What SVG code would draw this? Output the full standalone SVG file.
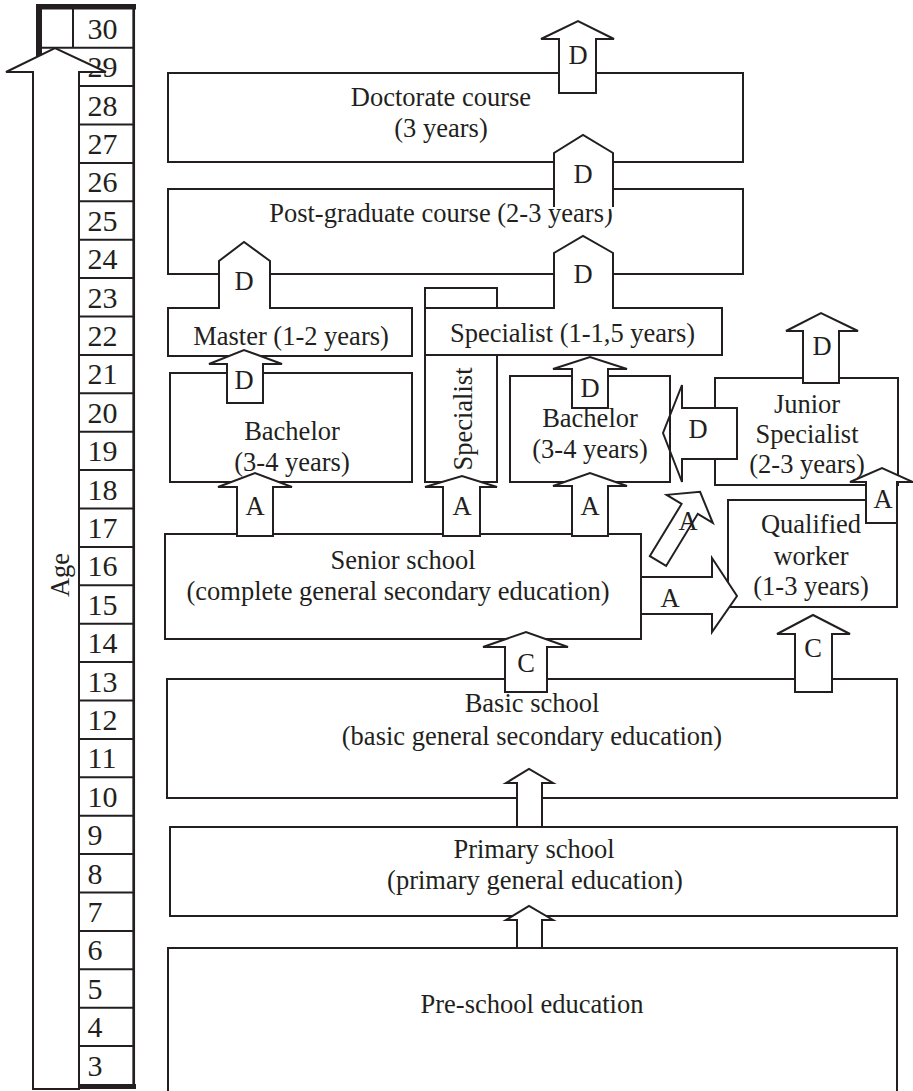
<svg xmlns="http://www.w3.org/2000/svg" width="913" height="1091" viewBox="0 0 913 1091">
<style>
.box{fill:#fff;stroke:#231f20;stroke-width:2}
.ln{fill:none;stroke:#231f20;stroke-width:2}
.arr{fill:#fff;stroke:#231f20;stroke-width:2;stroke-linejoin:miter}
.fillw{fill:#fff;stroke:none}
.t{font-family:"Liberation Serif","Times New Roman",serif;font-size:26.5px;fill:#231f20;text-anchor:middle}
.n{font-family:"Liberation Serif","Times New Roman",serif;font-size:30px;fill:#231f20}
.blk{fill:#231f20}
</style>
<rect width="913" height="1091" fill="#fff"/>

<g id="age-scale">
  <rect class="blk" x="36" y="4" width="100" height="5.5"/>
  <rect class="blk" x="36" y="4" width="6" height="56"/>
  <line x1="133.7" y1="4" x2="133.7" y2="1089" stroke="#231f20" stroke-width="2.7"/>
  <rect class="blk" x="79" y="1084" width="57" height="5"/>
  <line class="ln" x1="73" y1="9" x2="73" y2="47.7"/>
  <line class="ln" x1="36" y1="47.7" x2="134" y2="47.7"/>
  <g class="ln">
    <line x1="79" y1="86.1" x2="134" y2="86.1"/>
    <line x1="79" y1="124.5" x2="134" y2="124.5"/>
    <line x1="79" y1="162.9" x2="134" y2="162.9"/>
    <line x1="79" y1="201.3" x2="134" y2="201.3"/>
    <line x1="79" y1="239.7" x2="134" y2="239.7"/>
    <line x1="79" y1="278.1" x2="134" y2="278.1"/>
    <line x1="79" y1="316.5" x2="134" y2="316.5"/>
    <line x1="79" y1="354.9" x2="134" y2="354.9"/>
    <line x1="79" y1="393.3" x2="134" y2="393.3"/>
    <line x1="79" y1="431.7" x2="134" y2="431.7"/>
    <line x1="79" y1="470.1" x2="134" y2="470.1"/>
    <line x1="79" y1="508.5" x2="134" y2="508.5"/>
    <line x1="79" y1="546.9" x2="134" y2="546.9"/>
    <line x1="79" y1="585.3" x2="134" y2="585.3"/>
    <line x1="79" y1="623.7" x2="134" y2="623.7"/>
    <line x1="79" y1="662.1" x2="134" y2="662.1"/>
    <line x1="79" y1="700.5" x2="134" y2="700.5"/>
    <line x1="79" y1="738.9" x2="134" y2="738.9"/>
    <line x1="79" y1="777.3" x2="134" y2="777.3"/>
    <line x1="79" y1="815.7" x2="134" y2="815.7"/>
    <line x1="79" y1="854.1" x2="134" y2="854.1"/>
    <line x1="79" y1="892.5" x2="134" y2="892.5"/>
    <line x1="79" y1="930.9" x2="134" y2="930.9"/>
    <line x1="79" y1="969.3" x2="134" y2="969.3"/>
    <line x1="79" y1="1007.7" x2="134" y2="1007.7"/>
    <line x1="79" y1="1046.1" x2="134" y2="1046.1"/>
  </g>
  <g class="n">
    <text x="87.5" y="38.8">30</text>
    <text x="87.5" y="77.2">29</text>
    <text x="87.5" y="115.6">28</text>
    <text x="87.5" y="154">27</text>
    <text x="87.5" y="192.4">26</text>
    <text x="87.5" y="230.8">25</text>
    <text x="87.5" y="269.2">24</text>
    <text x="87.5" y="307.6">23</text>
    <text x="87.5" y="346">22</text>
    <text x="87.5" y="384.4">21</text>
    <text x="87.5" y="422.8">20</text>
    <text x="87.5" y="461.2">19</text>
    <text x="87.5" y="499.6">18</text>
    <text x="87.5" y="538">17</text>
    <text x="87.5" y="576.4">16</text>
    <text x="87.5" y="614.8">15</text>
    <text x="87.5" y="653.2">14</text>
    <text x="87.5" y="691.6">13</text>
    <text x="87.5" y="730">12</text>
    <text x="87.5" y="768.4">11</text>
    <text x="87.5" y="806.8">10</text>
    <text x="87.5" y="845.2">9</text>
    <text x="87.5" y="883.6">8</text>
    <text x="87.5" y="922">7</text>
    <text x="87.5" y="960.4">6</text>
    <text x="87.5" y="998.8">5</text>
    <text x="87.5" y="1037.2">4</text>
    <text x="87.5" y="1075.6">3</text>
  </g>
  <path class="arr" d="M33,1089 L33,72 L6,72 L55,48 L106,72 L79,72 L79,1089 Z"/>
  <text class="t" transform="translate(69,575) rotate(-90)">Age</text>
</g>

<g id="doctorate">
  <rect class="box" x="168" y="73" width="575" height="89"/>
  <text class="t" x="441" y="106">Doctorate course</text>
  <text class="t" x="441" y="137">(3 years)</text>
</g>
<g id="postgraduate">
  <rect class="box" x="168" y="189" width="575" height="85"/>
  <text class="t" x="441" y="222">Post-graduate course (2-3 years)</text>
</g>
<g id="master">
  <rect class="box" x="168" y="308" width="244" height="48"/>
  <text class="t" x="291" y="345">Master (1-2 years)</text>
</g>
<g id="bachelor1">
  <rect class="box" x="170" y="373" width="242" height="109"/>
  <text class="t" x="292" y="440">Bachelor</text>
  <text class="t" x="292" y="471">(3-4 years)</text>
</g>
<g id="specialist-vertical">
  <rect class="box" x="425" y="288" width="72" height="194"/>
  <text class="t" transform="translate(472,419) rotate(-90)">Specialist</text>
</g>
<g id="specialist">
  <rect class="box" x="425" y="308" width="297" height="47"/>
  <text class="t" x="572.5" y="342">Specialist (1-1,5 years)</text>
</g>
<g id="bachelor2">
  <rect class="box" x="510" y="376" width="160" height="106"/>
  <text class="t" x="590" y="427">Bachelor</text>
  <text class="t" x="590" y="458">(3-4 years)</text>
</g>
<g id="junior-specialist">
  <rect class="box" x="715" y="378" width="183" height="107"/>
  <text class="t" x="807" y="413">Junior</text>
  <text class="t" x="807" y="443">Specialist</text>
  <text class="t" x="807" y="473">(2-3 years)</text>
</g>
<g id="qualified-worker">
  <rect class="box" x="728" y="500" width="169" height="107"/>
  <text class="t" x="811" y="533">Qualified</text>
  <text class="t" x="811" y="565">worker</text>
  <text class="t" x="811" y="595">(1-3 years)</text>
</g>
<g id="senior-school">
  <rect class="box" x="165" y="534" width="476" height="105"/>
  <text class="t" x="403" y="569">Senior school</text>
  <text class="t" x="398" y="600">(complete general secondary education)</text>
</g>
<g id="basic-school">
  <rect class="box" x="167" y="679" width="730" height="119"/>
  <text class="t" x="532" y="712">Basic school</text>
  <text class="t" x="532" y="745">(basic general secondary education)</text>
</g>
<g id="primary-school">
  <rect class="box" x="170" y="827" width="727" height="89"/>
  <text class="t" x="534" y="858">Primary school</text>
  <text class="t" x="535" y="889">(primary general education)</text>
</g>
<g id="pre-school">
  <rect class="box" x="168" y="948" width="729" height="150"/>
  <text class="t" x="532" y="1013">Pre-school education</text>
</g>

<g id="connectors">
  <path class="arr" d="M559,93 L559,39 L541,39 L578,21 L614,39 L596,39 L596,93 Z"/>
  <text class="t" x="578" y="64">D</text>

  <path class="fillw" d="M554,209 L554,153 L583,135 L613,153 L613,209 Z"/>
  <path class="ln" d="M554,207 L554,153 L583,135 L613,153 L613,207"/>
  <text class="t" x="583" y="183">D</text>

  <path class="fillw" d="M554,310 L554,253 L583,236 L613,253 L613,310 Z"/>
  <path class="ln" d="M554,309 L554,253 L583,236 L613,253 L613,309"/>
  <text class="t" x="583" y="283">D</text>

  <path class="fillw" d="M219,310 L219,261 L244,242 L270,261 L270,310 Z"/>
  <path class="ln" d="M219,309 L219,261 L244,242 L270,261 L270,309"/>
  <text class="t" x="244" y="290">D</text>

  <path class="arr" d="M227,403 L227,364 L209,364 L244,350 L282,364 L263,364 L263,403 Z"/>
  <text class="t" x="244" y="389">D</text>

  <path class="arr" d="M572,408 L572,369 L553,369 L590,357 L627,369 L608,369 L608,408 Z"/>
  <text class="t" x="590" y="397">D</text>

  <path class="arr" d="M803,383 L803,331 L786,331 L821,313 L858,331 L839,331 L839,383 Z"/>
  <text class="t" x="822" y="355">D</text>

  <path class="fillw" d="M737,408 L682,408 L682,385 L671,412.8 L671,453.6 L682,482 L682,459 L737,459 Z"/>
  <path class="ln" d="M737,408 L682,408 L682,385 L663,433 L682,482 L682,459 L737,459 Z"/>
  <text class="t" x="698" y="438">D</text>

  <path class="arr" d="M237,536 L237,487 L218,487 L255,473 L292,487 L273,487 L273,536 Z"/>
  <text class="t" x="255" y="515">A</text>

  <path class="arr" d="M443,536 L443,487 L425,487 L462,476 L497,487 L480,487 L480,536 Z"/>
  <text class="t" x="462" y="515">A</text>

  <path class="arr" d="M572,536 L572,486 L553,486 L590,473 L627,486 L608,486 L608,536 Z"/>
  <text class="t" x="590" y="515">A</text>

  <path class="arr" transform="translate(658,561) rotate(31.3)" d="M-9.5,0 L-9.5,-61 L-27,-61 L0,-81 L27,-61 L9.5,-61 L9.5,0 Z"/>
  <text class="t" x="688" y="530">A</text>

  <path class="arr" d="M641,577 L712,577 L712,558 L737,596 L712,632 L712,614 L641,614 Z"/>
  <text class="t" x="670" y="607">A</text>

  <path class="arr" d="M866,523 L866,482 L850,482 L882,468 L913,482 L897,482 L897,523 Z"/>
  <text class="t" x="883" y="508">A</text>

  <path class="arr" d="M505,692 L505,647 L483,647 L526,632 L568,647 L547,647 L547,692 Z"/>
  <text class="t" x="526" y="672">C</text>

  <path class="arr" d="M795,692 L795,634 L777,634 L813,615 L850,634 L832,634 L832,692 Z"/>
  <text class="t" x="813" y="657">C</text>

  <path class="arr" d="M517,827 L517,783 L506,783 L529,769 L553,783 L542,783 L542,827 Z"/>

  <path class="arr" d="M517,948 L517,920 L506,920 L529,906 L553,920 L542,920 L542,948 Z"/>
</g>
</svg>
